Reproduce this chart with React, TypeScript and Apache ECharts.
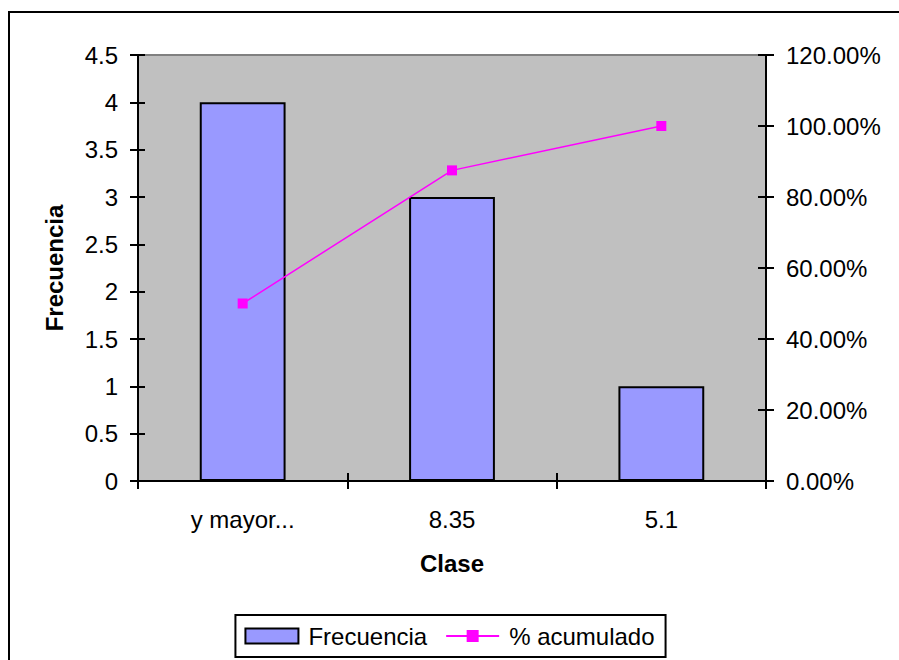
import React, { useEffect, useRef } from "react";
import * as echarts from "echarts";

const categories = ["y mayor...", "8.35", "5.1"];
const frecuencia = [4, 3, 1];
const acumulado = [50, 87.5, 100];
const leftTicks = { min: 0, max: 4.5, interval: 0.5 };
const rightTicks = { min: 0, max: 120, interval: 20 };

const FONT = "'Liberation Sans', Arial, sans-serif";

export default function App() {
  const ref = useRef<HTMLDivElement>(null);
  useEffect(() => {
    if (!ref.current) return;
    const chart = echarts.init(ref.current, null, { renderer: "svg" });
    const labelStyle = { color: "#000", fontSize: 24, fontFamily: FONT };
    const option = {
      animation: false,
      textStyle: { fontFamily: FONT },
      graphic: [
        {
          type: "rect",
          shape: { x: 9, y: 12, width: 1000, height: 1000 },
          style: { fill: "none", stroke: "#000", lineWidth: 2 },
          z: -10,
        },
      ],
      grid: {
        left: 138,
        top: 55,
        width: 628,
        height: 426,
        show: true,
        backgroundColor: "#C0C0C0",
        borderColor: "#808080",
        borderWidth: 2,
      },
      legend: {
        bottom: 3,
        left: "center",
        itemWidth: 53,
        itemHeight: 15,
        itemGap: 18,
        padding: [9, 11, 9, 9],
        borderColor: "#000",
        borderWidth: 2,
        backgroundColor: "#fff",
        textStyle: { ...labelStyle, padding: [0, 0, 0, 5] },
        data: [
          { name: "Frecuencia", icon: "rect" },
          { name: "% acumulado" },
        ],
      },
      xAxis: [
        {
          type: "category",
          data: categories,
          name: "Clase",
          nameLocation: "middle",
          nameGap: 70,
          nameTextStyle: { ...labelStyle, fontWeight: "bold" },
          axisLine: { lineStyle: { color: "#000", width: 2 } },
          axisTick: { show: true, length: 8, lineStyle: { color: "#000", width: 2 } },
          axisLabel: { ...labelStyle, margin: 26 },
          splitLine: { show: false },
        },
        {
          type: "category",
          data: categories,
          position: "bottom",
          axisLine: { show: false },
          axisTick: { show: true, inside: true, length: 8, lineStyle: { color: "#000", width: 2 } },
          axisLabel: { show: false },
          splitLine: { show: false },
        },
      ],
      yAxis: [
        {
          type: "value",
          ...leftTicks,
          name: "Frecuencia",
          nameLocation: "middle",
          nameGap: 72,
          nameTextStyle: { ...labelStyle, fontWeight: "bold" },
          axisLine: { show: true, lineStyle: { color: "#000", width: 2 } },
          axisTick: { show: true, length: 8, lineStyle: { color: "#000", width: 2 } },
          axisLabel: { ...labelStyle, margin: 20 },
          splitLine: { show: false },
        },
        {
          type: "value",
          ...rightTicks,
          position: "right",
          axisLine: { show: true, lineStyle: { color: "#000", width: 2 } },
          axisTick: { show: true, length: 8, lineStyle: { color: "#000", width: 2 } },
          axisLabel: {
            ...labelStyle,
            margin: 20,
            formatter: (v: number) => v.toFixed(2) + "%",
          },
          splitLine: { show: false },
        },
        {
          type: "value",
          ...leftTicks,
          position: "left",
          axisLine: { show: false },
          axisTick: { show: true, inside: true, length: 7, lineStyle: { color: "#000", width: 2 } },
          axisLabel: { show: false },
          splitLine: { show: false },
        },
        {
          type: "value",
          ...rightTicks,
          position: "right",
          axisLine: { show: false },
          axisTick: { show: true, inside: true, length: 8, lineStyle: { color: "#000", width: 2 } },
          axisLabel: { show: false },
          splitLine: { show: false },
        },
      ],
      series: [
        {
          name: "Frecuencia",
          type: "bar",
          data: frecuencia,
          xAxisIndex: 0,
          yAxisIndex: 0,
          barWidth: "41%",
          itemStyle: { color: "#9999FF", borderColor: "#000", borderWidth: 2 },
        },
        {
          name: "% acumulado",
          type: "line",
          data: acumulado,
          xAxisIndex: 0,
          yAxisIndex: 1,
          symbol: "rect",
          symbolSize: 10,
          lineStyle: { color: "#FF00FF", width: 1.5 },
          itemStyle: { color: "#FF00FF" },
        },
      ],
    };
    chart.setOption(option as any);
    return () => chart.dispose();
  }, []);
  return (
    <div
      ref={ref}
      style={{ position: "fixed", left: 0, top: 0, width: 899, height: 660, background: "#fff" }}
    />
  );
}
